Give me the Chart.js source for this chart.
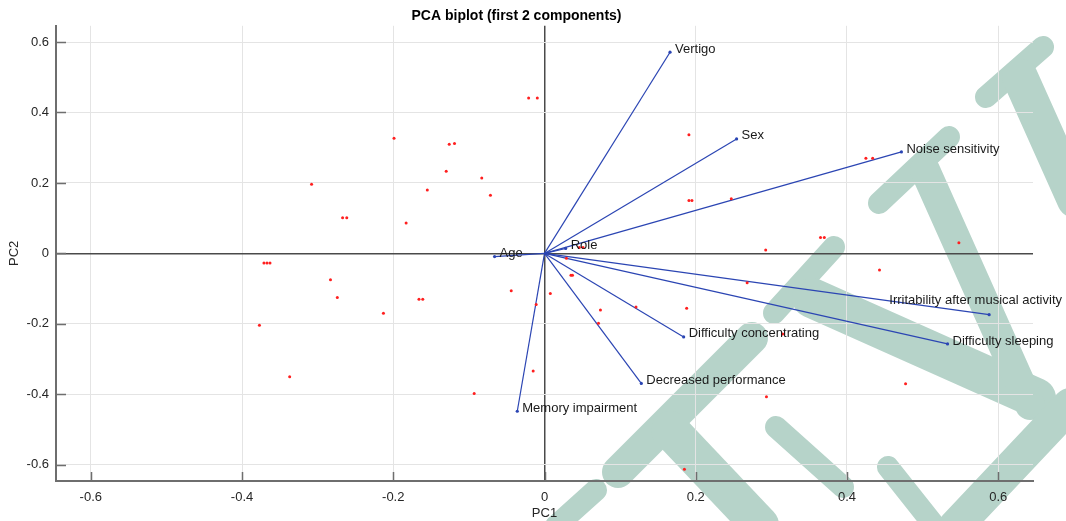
<!DOCTYPE html>
<html>
<head>
<meta charset="utf-8">
<script src="https://cdn.jsdelivr.net/npm/chart.js@4.4.1/dist/chart.umd.min.js"></script>
<style>
  html, body { margin: 0; padding: 0; background: #fff; }
  #wrap { width: 1066px; height: 521px; position: relative; }
</style>
</head>
<body>
<div id="wrap"><canvas id="biplot"></canvas></div>
<script>
// variable loadings (vectors)
const varNames = ["Vertigo", "Sex", "Noise sensitivity", "Role", "Age",
  "Irritability after musical activity", "Difficulty sleeping",
  "Difficulty concentrating", "Decreased performance", "Memory impairment"];
const varPC1 = [0.166, 0.254, 0.472, 0.028, -0.066, 0.588, 0.533, 0.184, 0.128, -0.036];
const varPC2 = [0.571, 0.325, 0.288, 0.014, -0.009, -0.174, -0.257, -0.237, -0.369, -0.448];

// observation scores
const obsPC1 = [-0.021, -0.0095, -0.199, -0.126, -0.119, -0.308, -0.267, -0.2615, -0.130, -0.155,
  -0.083, -0.0715, -0.183, 0.191, 0.425, 0.434, 0.191, 0.195, 0.247, 0.365,
  0.370, 0.2925, 0.548, 0.046, 0.051, -0.371, -0.367, -0.363, -0.283, -0.274,
  -0.166, -0.161, -0.213, -0.377, -0.337, -0.093, -0.044, -0.011, -0.015, 0.443,
  0.268, 0.035, 0.037, 0.0077, 0.074, 0.121, 0.188, 0.0714, 0.315, 0.4775,
  0.2935, 0.185, 0.029];
const obsPC2 = [0.441, 0.441, 0.327, 0.310, 0.312, 0.196, 0.101, 0.101, 0.233, 0.180,
  0.214, 0.165, 0.086, 0.337, 0.270, 0.270, 0.150, 0.150, 0.155, 0.045,
  0.045, 0.010, 0.030, 0.017, 0.017, -0.027, -0.027, -0.027, -0.075, -0.125,
  -0.130, -0.130, -0.170, -0.204, -0.350, -0.398, -0.106, -0.145, -0.334, -0.047,
  -0.083, -0.062, -0.062, -0.114, -0.161, -0.152, -0.156, -0.198, -0.229, -0.370,
  -0.407, -0.613, -0.014];

const xTickValues = [-0.6, -0.4, -0.2, 0, 0.2, 0.4, 0.6];
const yTickValues = [-0.6, -0.4, -0.2, 0, 0.2, 0.4, 0.6];

const FONT = '"Liberation Sans", Arial, Helvetica, sans-serif';
const vecColor = '#2b45b3';

// the big teal watermark lettering over the image, rough strokes [x1, y1, x2, y2, width]
const watermarkStrokes = [
  [556, 526, 596, 490, 22], [618, 472, 752, 338, 32], [670, 430, 760, 525, 38],
  [776, 427, 843, 487, 22], [888, 467, 934, 525, 22], [774, 313, 834, 247, 22],
  [812, 298, 1036, 398, 40], [879, 203, 949, 137, 22], [925, 170, 1030, 405, 30],
  [986, 97, 1043, 47, 22], [1020, 77, 1075, 200, 36], [955, 527, 1070, 405, 34]
];
const watermark = {
  id: 'watermark',
  beforeDraw(chart) {
    const ctx = chart.ctx;
    ctx.save();
    ctx.strokeStyle = '#b6d3c9';
    ctx.lineCap = 'round';
    watermarkStrokes.forEach(([x1, y1, x2, y2, w]) => {
      ctx.lineWidth = w;
      ctx.beginPath();
      ctx.moveTo(x1, y1);
      ctx.lineTo(x2, y2);
      ctx.stroke();
    });
    ctx.restore();
  }
};

// small tick marks pointing into the plot, like the original
const inwardTicks = {
  id: 'inwardTicks',
  beforeDatasetsDraw(chart) {
    const { ctx, chartArea: a, scales: { x, y } } = chart;
    ctx.save();
    ctx.strokeStyle = '#6e6e6e';
    ctx.lineWidth = 1.5;
    ctx.beginPath();
    x.ticks.forEach(t => {
      const px = Math.round(x.getPixelForValue(t.value)) + 0.5;
      ctx.moveTo(px, a.bottom);
      ctx.lineTo(px, a.bottom - 9);
    });
    y.ticks.forEach(t => {
      const py = Math.round(y.getPixelForValue(t.value)) + 0.5;
      ctx.moveTo(a.left, py);
      ctx.lineTo(a.left + 10, py);
    });
    ctx.stroke();
    ctx.restore();
  }
};

// names at the tip of each vector
const vectorLabels = {
  id: 'vectorLabels',
  afterDatasetsDraw(chart) {
    const { ctx, scales: { x, y } } = chart;
    ctx.save();
    ctx.font = '13px ' + FONT;
    ctx.fillStyle = '#1a1a1a';
    ctx.textBaseline = 'middle';
    varNames.forEach((name, i) => {
      const px = x.getPixelForValue(varPC1[i]);
      const py = y.getPixelForValue(varPC2[i]);
      const w = ctx.measureText(name).width;
      let tx = px + 5, ty = py - 3;
      if (tx + w > chart.width - 2) { // too long: pull it back inside, above the tip
        tx = chart.width - 4 - w;
        ty = py - 14;
      }
      ctx.fillText(name, tx, ty);
    });
    ctx.restore();
  }
};

const obsPoints = obsPC1.map((v, i) => ({ x: v, y: obsPC2[i] }));

const vectorSets = varNames.map((name, i) => ({
  label: name,
  data: [{ x: 0, y: 0 }, { x: varPC1[i], y: varPC2[i] }],
  showLine: true,
  borderColor: vecColor,
  borderWidth: 1.2,
  pointRadius: [0, 1.6],
  pointBackgroundColor: vecColor,
  pointBorderWidth: 0
}));

const gridColor = c => (c.tick && c.tick.value === 0) ? '#4a4a4a' : '#e4e4e4';
const gridWidth = c => (c.tick && c.tick.value === 0) ? 1.5 : 1;

new Chart(document.getElementById('biplot'), {
  type: 'scatter',
  data: {
    datasets: [
      {
        label: 'Observations',
        data: obsPoints,
        pointRadius: 1.5,
        pointBackgroundColor: '#ff1f1f',
        pointBorderWidth: 0
      },
      ...vectorSets
    ]
  },
  options: {
    responsive: true,
    maintainAspectRatio: false,
    animation: false,
    layout: { padding: { top: 0, right: 33, bottom: 0, left: 0 } },
    plugins: {
      legend: { display: false },
      tooltip: { enabled: false },
      title: {
        display: true,
        text: 'PCA biplot (first 2 components)',
        color: '#000',
        font: { family: FONT, size: 14, weight: 'bold' },
        padding: { top: 8, bottom: 1 }
      }
    },
    scales: {
      x: {
        type: 'linear',
        min: -0.646,
        max: 0.646,
        afterBuildTicks: s => { s.ticks = xTickValues.map(v => ({ value: v })); },
        afterFit: s => { s.height = 40; },
        ticks: {
          color: '#262626',
          font: { family: FONT, size: 13 },
          padding: 9,
          callback: v => String(v)
        },
        grid: { color: gridColor, lineWidth: gridWidth, drawTicks: false },
        border: { display: true, color: '#6e6e6e', width: 2 },
        title: {
          display: true,
          text: 'PC1',
          color: '#262626',
          font: { family: FONT, size: 13 },
          padding: { top: 0, bottom: 0 }
        }
      },
      y: {
        type: 'linear',
        min: -0.646,
        max: 0.646,
        afterBuildTicks: s => { s.ticks = yTickValues.map(v => ({ value: v })); },
        afterFit: s => { s.width = 56; },
        ticks: {
          color: '#262626',
          font: { family: FONT, size: 13 },
          padding: 7,
          callback: v => String(v)
        },
        grid: { color: gridColor, lineWidth: gridWidth, drawTicks: false },
        border: { display: true, color: '#6e6e6e', width: 2 },
        title: {
          display: true,
          text: 'PC2',
          color: '#262626',
          font: { family: FONT, size: 13 },
          padding: { top: 7, bottom: 0 }
        }
      }
    }
  },
  plugins: [watermark, inwardTicks, vectorLabels]
});
</script>
</body>
</html>
